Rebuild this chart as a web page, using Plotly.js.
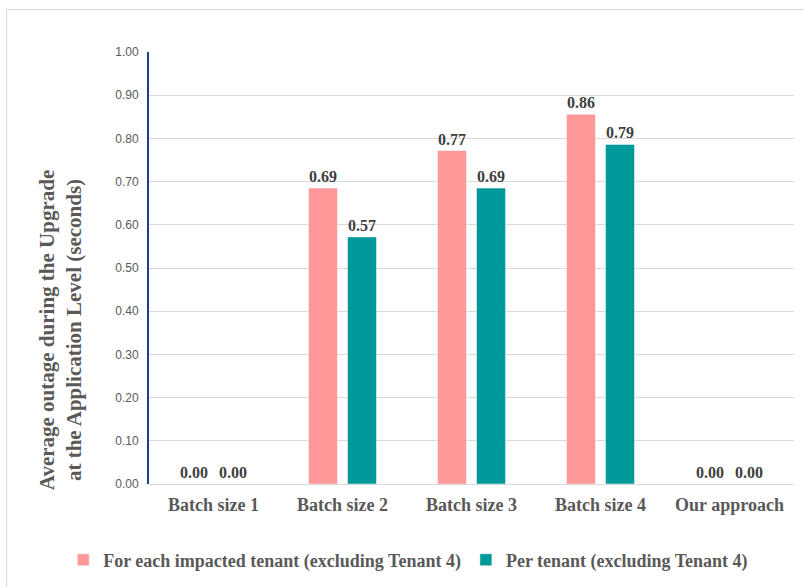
<!DOCTYPE html>
<html>
<head>
<meta charset="utf-8">
<script src="https://cdn.plot.ly/plotly-3.0.1.min.js"></script>
<style>
  html, body { margin: 0; padding: 0; background: #fff; overflow: hidden; }
  #frame { position: absolute; left: 6px; top: 9px; width: 900px; height: 700px; border: 1px solid #d9d9d9; box-sizing: border-box; }
  #chart { position: absolute; left: 0; top: 0; width: 804px; height: 587px; }
</style>
</head>
<body>
<div id="frame"></div>
<div id="chart"></div>
<script>
const categories = ['Batch size 1', 'Batch size 2', 'Batch size 3', 'Batch size 4', 'Our approach'];
const seriesNames = ['For each impacted tenant (excluding Tenant 4)', 'Per tenant (excluding Tenant 4)'];
const impactedValues = [0, 0.685, 0.772, 0.856, 0];
const perTenantValues = [0, 0.572, 0.685, 0.786, 0];
const impactedLabels = ['0.00', '0.69', '0.77', '0.86', '0.00'];
const perTenantLabels = ['0.00', '0.57', '0.69', '0.79', '0.00'];
const yTickValues = [0, 0.1, 0.2, 0.3, 0.4, 0.5, 0.6, 0.7, 0.8, 0.9, 1.0];
const yTickLabels = ['0.00', '0.10', '0.20', '0.30', '0.40', '0.50', '0.60', '0.70', '0.80', '0.90', '1.00'];

const serif = '"Liberation Serif", "Times New Roman", serif';
const labelFont = {family: serif, size: 16, color: '#404040', weight: 'bold'};

function barTrace(name, values, labels, color) {
  return {
    type: 'bar', name: name, x: categories, y: values,
    text: labels, textposition: 'outside', cliponaxis: false,
    textfont: labelFont,
    marker: {color: color, line: {color: 'rgba(255,255,255,0.5)', width: 1}},
    hoverinfo: 'skip'
  };
}

const data = [
  barTrace(seriesNames[0], impactedValues, impactedLabels, '#ff9999'),
  barTrace(seriesNames[1], perTenantValues, perTenantLabels, '#009999')
];

const layout = {
  width: 804, height: 587,
  margin: {l: 149, r: 10, t: 52, b: 103, autoexpand: false},
  paper_bgcolor: 'rgba(0,0,0,0)', plot_bgcolor: 'rgba(0,0,0,0)',
  barmode: 'group', bargap: 0.395, bargroupgap: 0.256,
  showlegend: true,
  legend: {
    orientation: 'h', xref: 'paper', yref: 'paper',
    x: -0.133, xanchor: 'left', y: -0.176, yanchor: 'middle',
    font: {family: serif, size: 18, color: '#595959', weight: 'bold'},
    traceorder: 'normal', itemwidth: 30
  },
  xaxis: {
    type: 'category', showgrid: false, zeroline: false, showline: false,
    ticks: '', ticklabelstandoff: 8,
    tickfont: {family: serif, size: 18, color: '#595959', weight: 'bold'}
  },
  yaxis: {
    range: [0, 1.0], tickvals: yTickValues, ticktext: yTickLabels,
    showgrid: true, gridcolor: '#d9d9d9', gridwidth: 1,
    zeroline: true, zerolinecolor: '#d9d9d9', zerolinewidth: 1,
    showline: true, linecolor: '#1c3f94', linewidth: 2,
    ticks: '', ticklabelstandoff: 6,
    tickfont: {family: '"Liberation Sans", Arial, sans-serif', size: 12, color: '#595959'}
  },
  annotations: [{
    text: 'Average outage during the Upgrade<br>at the Application Level (seconds)',
    xref: 'paper', yref: 'paper', x: -0.138, y: 0.356,
    xanchor: 'center', yanchor: 'middle', textangle: -90, showarrow: false,
    font: {family: serif, size: 21, color: '#595959', weight: 'bold'}
  }]
};

Plotly.newPlot('chart', data, layout, {displayModeBar: false, staticPlot: true});
</script>
</body>
</html>
